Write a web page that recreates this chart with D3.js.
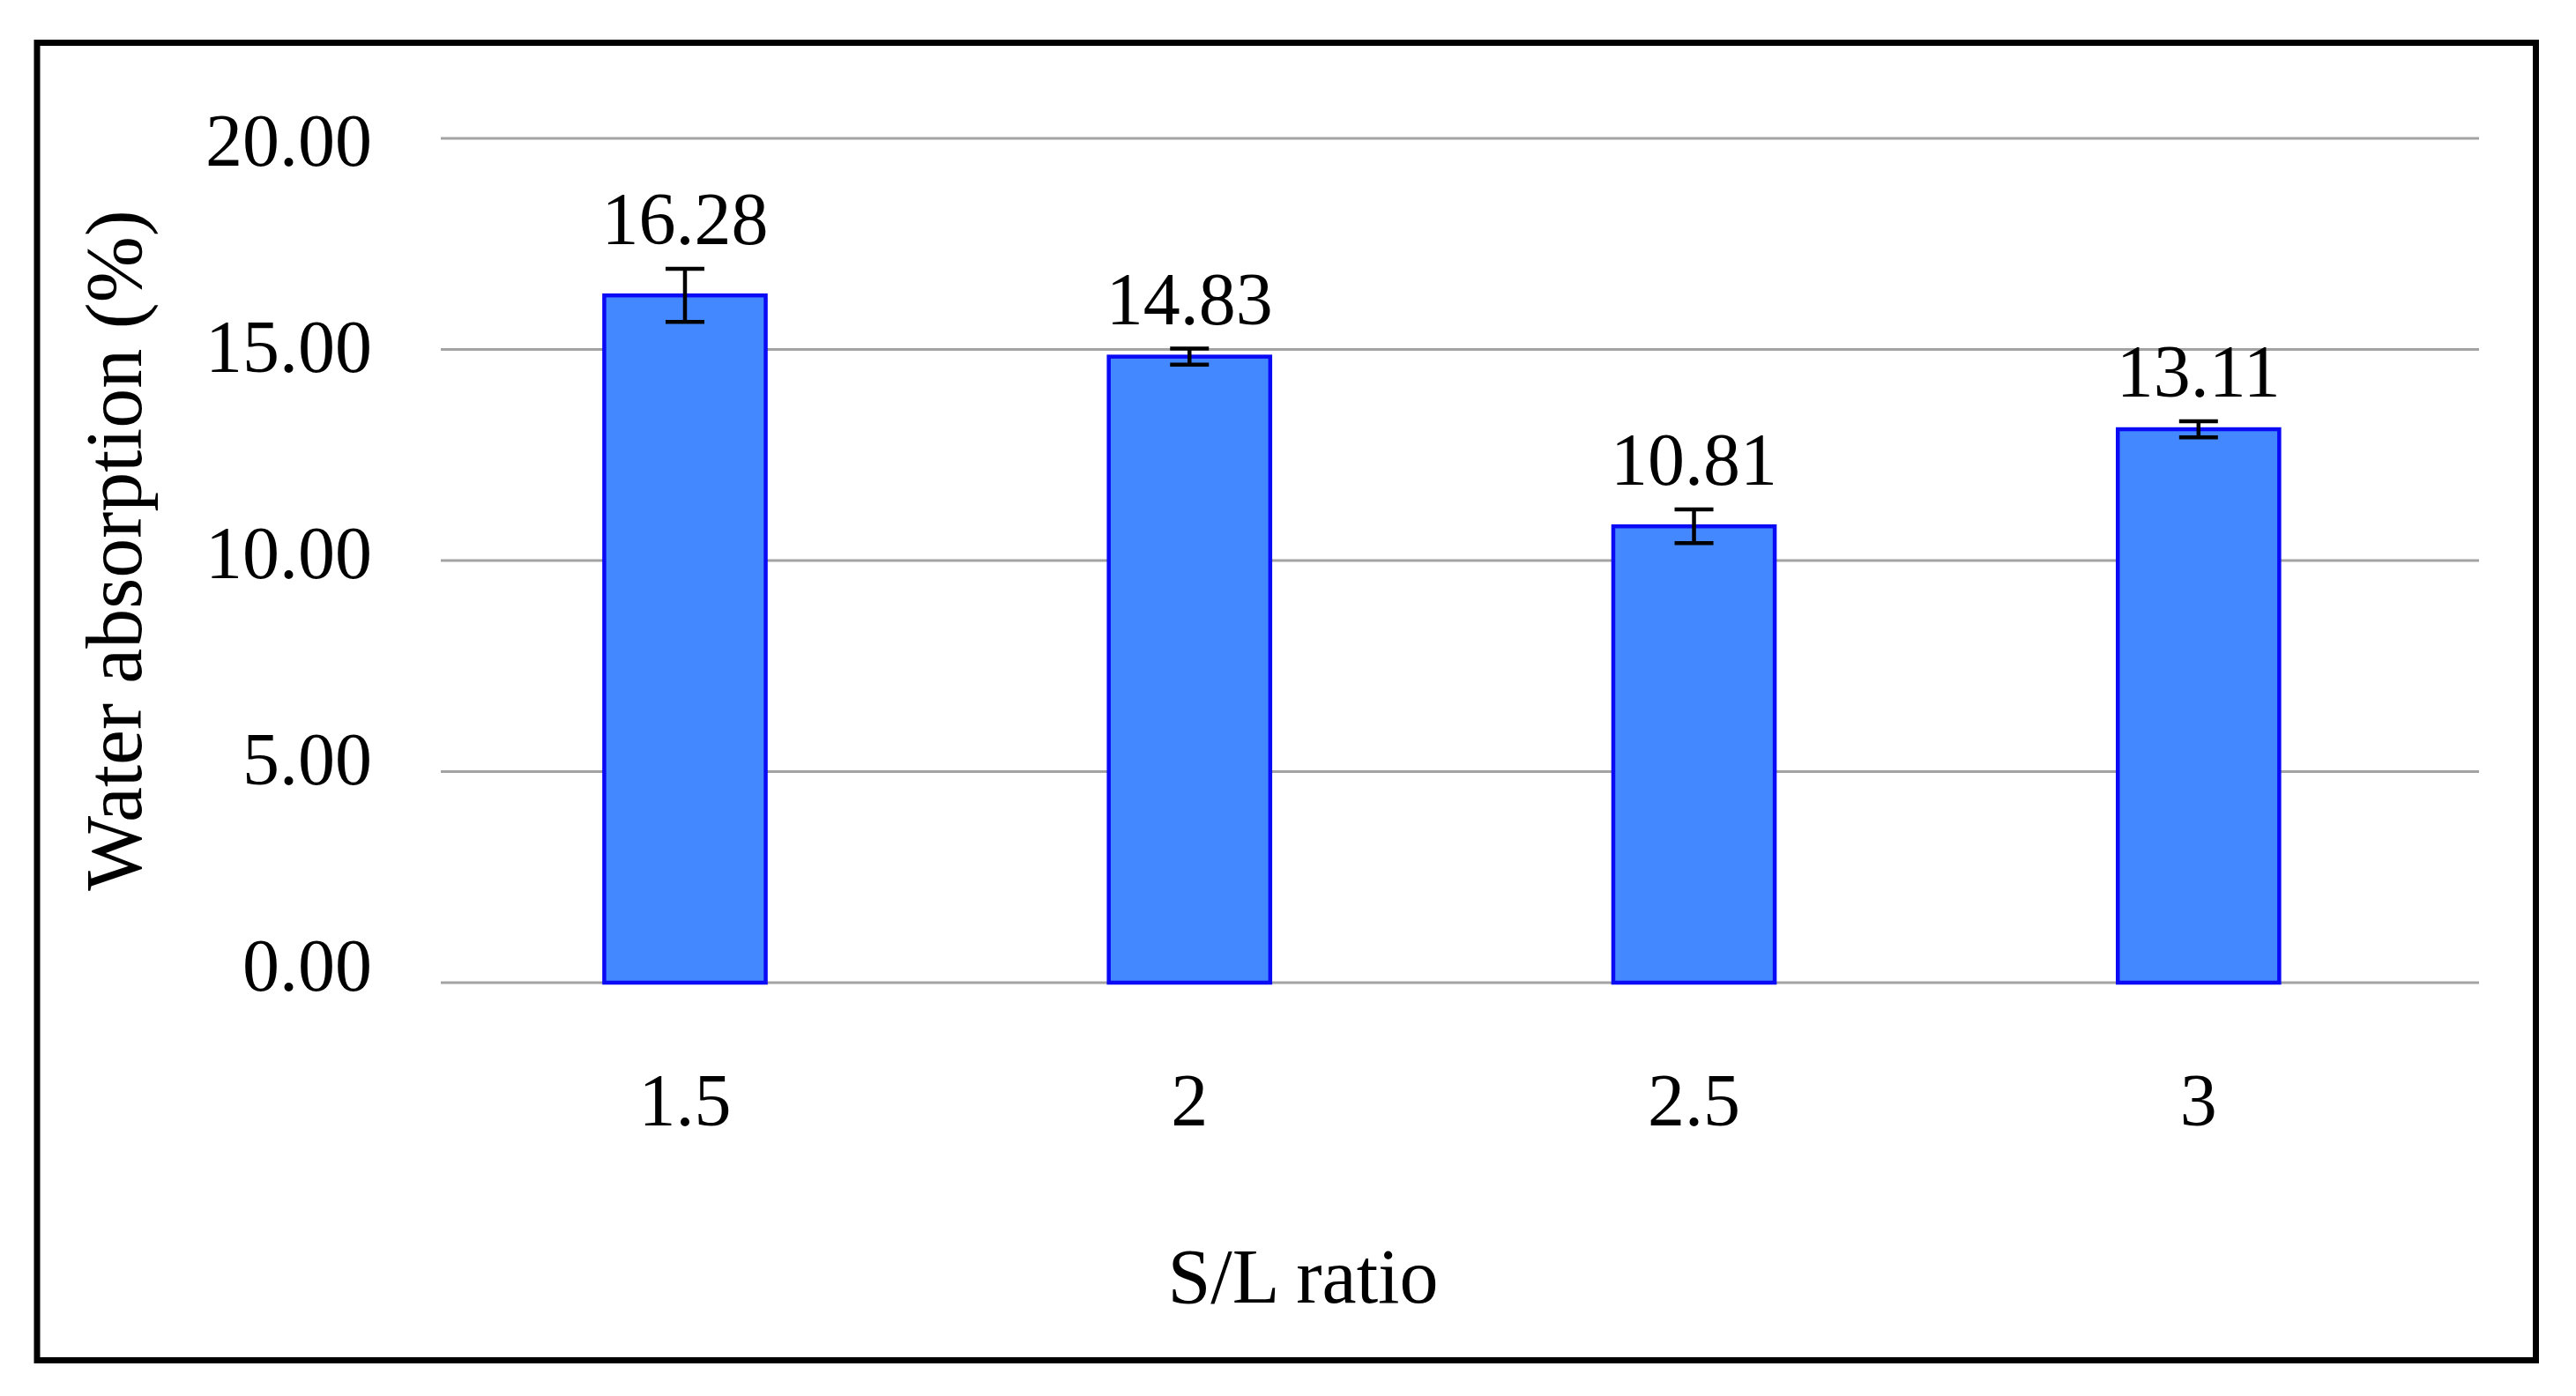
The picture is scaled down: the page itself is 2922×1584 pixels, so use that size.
<!DOCTYPE html>
<html>
<head>
<meta charset="utf-8">
<script src="https://cdn.jsdelivr.net/npm/d3@7"></script>
<style>
  html, body { margin: 0; padding: 0; background: #fff; }
  svg { display: block; }
  text { font-family: "Liberation Serif", "Times New Roman", serif; fill: #000; }
</style>
</head>
<body>
<svg id="chart" width="2922" height="1584"></svg>
<script>
// ---- data ----
const categories = ["1.5", "2", "2.5", "3"];
const values = [16.28, 14.83, 10.81, 13.11];
const errors = [0.63, 0.19, 0.40, 0.19];
const valueLabels = ["16.28", "14.83", "10.81", "13.11"];
const yTicks = [0, 5, 10, 15, 20];
const yTickLabels = ["0.00", "5.00", "10.00", "15.00", "20.00"];
const xTitle = "S/L ratio";
const yTitle = "Water absorption (%)";

// ---- layout ----
const svg = d3.select("#chart");
const plot = { left: 500, right: 2812, top: 157, bottom: 1115 };

svg.append("rect")
  .attr("x", 42).attr("y", 48.5)
  .attr("width", 2834.5).attr("height", 1495)
  .attr("fill", "#fff").attr("stroke", "#000").attr("stroke-width", 7);

const x = d3.scaleBand()
  .domain(categories)
  .range([plot.left, plot.right])
  .paddingInner(0.68)
  .paddingOuter(0.36)
  .align(0.45);

const y = d3.scaleLinear().domain([0, 20]).range([plot.bottom, plot.top]);
// tick labels in the reference sit on a slightly tighter spacing than the gridlines
const yLab = d3.scaleLinear().domain([0, 20]).range([1095, 159]);

// gridlines
svg.append("g").selectAll("line").data(yTicks).join("line")
  .attr("x1", plot.left).attr("x2", plot.right)
  .attr("y1", d => y(d)).attr("y2", d => y(d))
  .attr("stroke", "#a3a3a3").attr("stroke-width", 3);

// y tick labels
svg.append("g").selectAll("text").data(yTicks).join("text")
  .attr("x", 422)
  .attr("y", d => yLab(d))
  .attr("dy", "0.35em")
  .attr("text-anchor", "end")
  .attr("font-size", 84)
  .text((d, i) => yTickLabels[i]);

// bars
svg.append("g").selectAll("rect").data(values).join("rect")
  .attr("x", (d, i) => x(categories[i]))
  .attr("y", d => y(d))
  .attr("width", x.bandwidth())
  .attr("height", d => y(0) - y(d))
  .attr("fill", "#4488FF")
  .attr("stroke", "#0a0af5")
  .attr("stroke-width", 4.5);

// error bars
const cap = 22;
const eg = svg.append("g").attr("stroke", "#000").attr("stroke-width", 4.5);
values.forEach((v, i) => {
  const cx = x(categories[i]) + x.bandwidth() / 2;
  const yt = y(v + errors[i]), yb = y(v - errors[i]);
  eg.append("line").attr("x1", cx).attr("x2", cx).attr("y1", yt).attr("y2", yb);
  eg.append("line").attr("x1", cx - cap).attr("x2", cx + cap).attr("y1", yt).attr("y2", yt);
  eg.append("line").attr("x1", cx - cap).attr("x2", cx + cap).attr("y1", yb).attr("y2", yb);
});

// value labels
svg.append("g").selectAll("text").data(values).join("text")
  .attr("x", (d, i) => x(categories[i]) + x.bandwidth() / 2)
  .attr("y", (d, i) => y(d + errors[i]) - 28)
  .attr("text-anchor", "middle")
  .attr("font-size", 84)
  .text((d, i) => valueLabels[i]);

// x tick labels
svg.append("g").selectAll("text").data(categories).join("text")
  .attr("x", d => x(d) + x.bandwidth() / 2)
  .attr("y", 1277)
  .attr("text-anchor", "middle")
  .attr("font-size", 84)
  .text(d => d);

// axis titles
svg.append("text")
  .attr("x", 1478).attr("y", 1478)
  .attr("text-anchor", "middle")
  .attr("font-size", 88)
  .text(xTitle);

svg.append("text")
  .attr("transform", "translate(160,624.5) rotate(-90)")
  .attr("text-anchor", "middle")
  .attr("font-size", 90)
  .text(yTitle);
</script>
</body>
</html>
